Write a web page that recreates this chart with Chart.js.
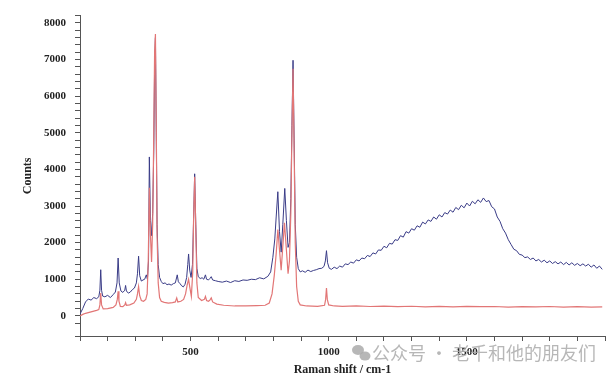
<!DOCTYPE html>
<html>
<head>
<meta charset="utf-8">
<script src="https://cdn.jsdelivr.net/npm/chart.js@4/dist/chart.umd.min.js"></script>
<style>
    html, body { margin: 0; padding: 0; background: #fff; }
    #wrap { width: 616px; height: 381px; position: relative; }
</style>
</head>
<body>
<div id="wrap"><canvas id="raman-chart"></canvas></div>
<script>
// Spectrum with fluorescence background (blue)
const sampleShift = [
    100, 110, 120, 130, 140, 150, 160, 168, 172, 175, 178, 182, 190, 200, 210, 220, 228, 234, 238, 242,
    248, 255, 262, 265, 268, 275, 282, 290, 297, 304, 308, 312, 316, 322, 328, 334, 340, 344, 348, 351,
    355, 359, 363, 367, 370, 373, 376, 379, 383, 388, 394, 400, 408, 415, 422, 430, 438, 445, 452, 456,
    462, 468, 474, 480, 486, 490, 493, 497, 502, 507, 511, 515, 519, 523, 528, 535, 542, 548, 554, 558,
    565, 570, 575, 580, 590, 600, 615, 630, 645, 660, 675, 690, 705, 720, 735, 750, 765, 780, 790, 798,
    805, 810, 816, 822, 828, 834, 841, 847, 853, 858, 863, 867, 871, 875, 879, 884, 890, 897, 905, 915,
    925, 935, 945, 955, 965, 975, 983, 988, 992, 996, 1002, 1010, 1020, 1030, 1040, 1050, 1060, 1070, 1080, 1090,
    1100, 1110, 1120, 1130, 1140, 1150, 1160, 1170, 1180, 1190, 1200, 1210, 1220, 1230, 1240, 1250, 1260, 1270, 1280, 1290,
    1300, 1310, 1320, 1330, 1340, 1350, 1360, 1370, 1380, 1390, 1400, 1410, 1420, 1430, 1440, 1450, 1460, 1470, 1480, 1490,
    1500, 1510, 1520, 1530, 1540, 1550, 1560, 1570, 1580, 1590, 1600, 1610, 1620, 1630, 1640, 1650, 1660, 1670, 1680, 1690,
    1700, 1710, 1720, 1730, 1740, 1750, 1760, 1770, 1780, 1790, 1800, 1810, 1820, 1830, 1840, 1850, 1860, 1870, 1880, 1890,
    1900, 1910, 1920, 1930, 1940, 1950, 1960, 1970, 1980, 1990
];
const sampleCounts = [
    50, 200, 380, 460, 430, 500, 470, 520, 700, 1260, 700, 540, 520, 560, 500, 580, 650, 900, 1580, 900,
    680, 640, 700, 830, 680, 620, 650, 720, 760, 900, 1150, 1630, 1100, 950, 980, 1000, 1120, 1000, 1500, 4340,
    2600, 2190, 2800, 4500, 6800, 7600, 5000, 2500, 1400, 1050, 940, 880, 900, 850, 870, 840, 880, 900, 1120, 930,
    880, 820, 790, 860, 1050, 1400, 1690, 1250, 1050, 1400, 2600, 3880, 2500, 1300, 1070, 1020, 1040, 1000, 1120, 1000,
    980, 1020, 1070, 980, 960, 940, 920, 950, 910, 960, 940, 980, 970, 1000, 990, 1040, 1010, 1080, 1200, 1600,
    2100, 2700, 3390, 2300, 1740, 2500, 3480, 2600, 1870, 2000, 3200, 5200, 6980, 4800, 2500, 1600, 1290, 1200, 1230, 1190,
    1250, 1210, 1240, 1260, 1290, 1300, 1350, 1500, 1780, 1450, 1300, 1270, 1330, 1290, 1360, 1330, 1420, 1400, 1470, 1440,
    1530, 1500, 1580, 1560, 1650, 1620, 1720, 1690, 1800, 1790, 1900, 1860, 1980, 1960, 2080, 2060, 2190, 2150, 2300, 2260,
    2380, 2340, 2460, 2420, 2560, 2510, 2620, 2580, 2700, 2640, 2760, 2700, 2820, 2780, 2890, 2830, 2960, 2900, 3020, 2950,
    3080, 3000, 3130, 3060, 3170, 3100, 3220, 3120, 3150, 2980, 2920, 2700, 2580, 2380, 2260, 2080, 1950, 1820, 1780, 1680,
    1660, 1590, 1610, 1540, 1580, 1500, 1540, 1470, 1520, 1450, 1500, 1430, 1480, 1420, 1470, 1400, 1460, 1390, 1450, 1380,
    1430, 1370, 1420, 1360, 1410, 1330, 1390, 1300, 1360, 1270
];

// Reference spectrum (red)
const referenceShift = [
    100, 110, 120, 140, 160, 168, 172, 175, 178, 184, 200, 220, 230, 235, 238, 241, 246, 255, 262, 265,
    268, 280, 295, 304, 308, 312, 316, 322, 330, 338, 343, 347, 351, 355, 359, 363, 367, 370, 373, 376,
    379, 383, 388, 394, 405, 420, 435, 445, 450, 454, 465, 475, 482, 488, 493, 497, 503, 508, 511, 515,
    519, 523, 528, 540, 550, 554, 558, 565, 570, 575, 580, 595, 620, 660, 700, 740, 770, 785, 795, 803,
    810, 816, 822, 828, 834, 840, 847, 853, 858, 863, 867, 871, 875, 879, 884, 890, 897, 920, 960, 985,
    989, 992, 995, 1000, 1020, 1050, 1100, 1150, 1200, 1250, 1300, 1350, 1400, 1450, 1500, 1550, 1600, 1650, 1700, 1750,
    1800, 1850, 1900, 1950, 1990
];
const referenceCounts = [
    0, 40, 70, 110, 150, 170, 300, 620, 300, 190, 200, 230, 300, 450, 670, 400, 260, 250, 300, 360,
    290, 300, 350, 450, 600, 800, 550, 420, 400, 450, 600, 1500, 3500, 2200, 1470, 2500, 5000, 7200, 7700, 5200,
    2200, 900, 500, 400, 370, 350, 360, 380, 490, 380, 400, 450, 600, 850, 1000, 800, 530, 1200, 2600, 3800,
    2400, 900, 500, 420, 450, 530, 420, 400, 430, 490, 380, 320, 290, 270, 270, 280, 290, 350, 600, 1100,
    1700, 2360, 1800, 1250, 1900, 2540, 1800, 1150, 1500, 2800, 5000, 6750, 4500, 2000, 800, 400, 300, 270, 260, 290,
    450, 760, 450, 300, 270, 260, 270, 255, 265, 250, 262, 248, 258, 245, 260, 250, 255, 240, 252, 245,
    255, 240, 250, 238, 245
];

// Axis ticks
const xLabels = [500, 1000, 1500];
const yLabels = [0, 1000, 2000, 3000, 4000, 5000, 6000, 7000, 8000];

const tickFont = { family: '"Liberation Serif", serif', size: 11, weight: 'bold' };
const axisColor = '#555';

function toPoints(xs, ys) {
    return xs.map((x, i) => ({ x: x, y: ys[i] }));
}

// Light watermark in the bottom right corner
const watermark = {
    id: 'watermark',
    afterDraw(chart) {
        const ctx = chart.ctx;
        ctx.save();
        ctx.fillStyle = 'rgba(170, 170, 170, 0.85)';
        ctx.beginPath();
        ctx.ellipse(358, 350, 6, 5, 0, 0, Math.PI * 2);
        ctx.fill();
        ctx.beginPath();
        ctx.ellipse(365, 356, 5.5, 4.5, 0, 0, Math.PI * 2);
        ctx.fill();
        ctx.font = '18px "Noto Sans CJK SC", sans-serif';
        ctx.textBaseline = 'middle';
        ctx.fillText('公众号 · 老千和他的朋友们', 372, 353);
        ctx.restore();
    }
};

new Chart(document.getElementById('raman-chart'), {
    type: 'scatter',
    data: {
        datasets: [
            {
                label: 'reference',
                data: toPoints(referenceShift, referenceCounts),
                showLine: true,
                borderColor: 'rgb(226, 118, 118)',
                borderWidth: 1.2,
                pointRadius: 0,
                tension: 0
            },
            {
                label: 'sample',
                data: toPoints(sampleShift, sampleCounts),
                showLine: true,
                borderColor: 'rgb(58, 60, 135)',
                borderWidth: 1,
                pointRadius: 0,
                tension: 0
            }
        ]
    },
    options: {
        responsive: true,
        maintainAspectRatio: false,
        animation: false,
        layout: { padding: { left: 0, right: 11, top: 8, bottom: 0 } },
        plugins: {
            legend: { display: false },
            tooltip: { enabled: false }
        },
        scales: {
            x: {
                type: 'linear',
                min: 100,
                max: 2000,
                afterFit(scale) { scale.height = 45; },
                border: { color: axisColor, width: 1 },
                grid: { drawOnChartArea: false, tickLength: 5, color: axisColor },
                ticks: {
                    stepSize: 100,
                    autoSkip: false,
                    maxRotation: 0,
                    padding: 5,
                    color: '#222',
                    font: tickFont,
                    callback: (value) => xLabels.includes(value) ? String(value) : ''
                },
                title: {
                    display: true,
                    text: 'Raman shift / cm-1',
                    color: '#222',
                    font: { family: '"Liberation Serif", serif', size: 12, weight: 'bold' },
                    padding: { top: 0, bottom: 4 }
                }
            },
            y: {
                type: 'linear',
                min: -550,
                max: 8200,
                afterFit(scale) { scale.width = 80; },
                border: { color: axisColor, width: 1 },
                grid: { drawOnChartArea: false, tickLength: 5, color: axisColor },
                ticks: {
                    stepSize: 200,
                    autoSkip: false,
                    padding: 9,
                    color: '#222',
                    font: tickFont,
                    callback: (value) => yLabels.includes(value) ? String(value) : ''
                },
                title: {
                    display: true,
                    text: 'Counts',
                    color: '#222',
                    font: { family: '"Liberation Serif", serif', size: 12, weight: 'bold' },
                    padding: { top: 21, bottom: 0 }
                }
            }
        }
    },
    plugins: [watermark]
});
</script>
</body>
</html>
